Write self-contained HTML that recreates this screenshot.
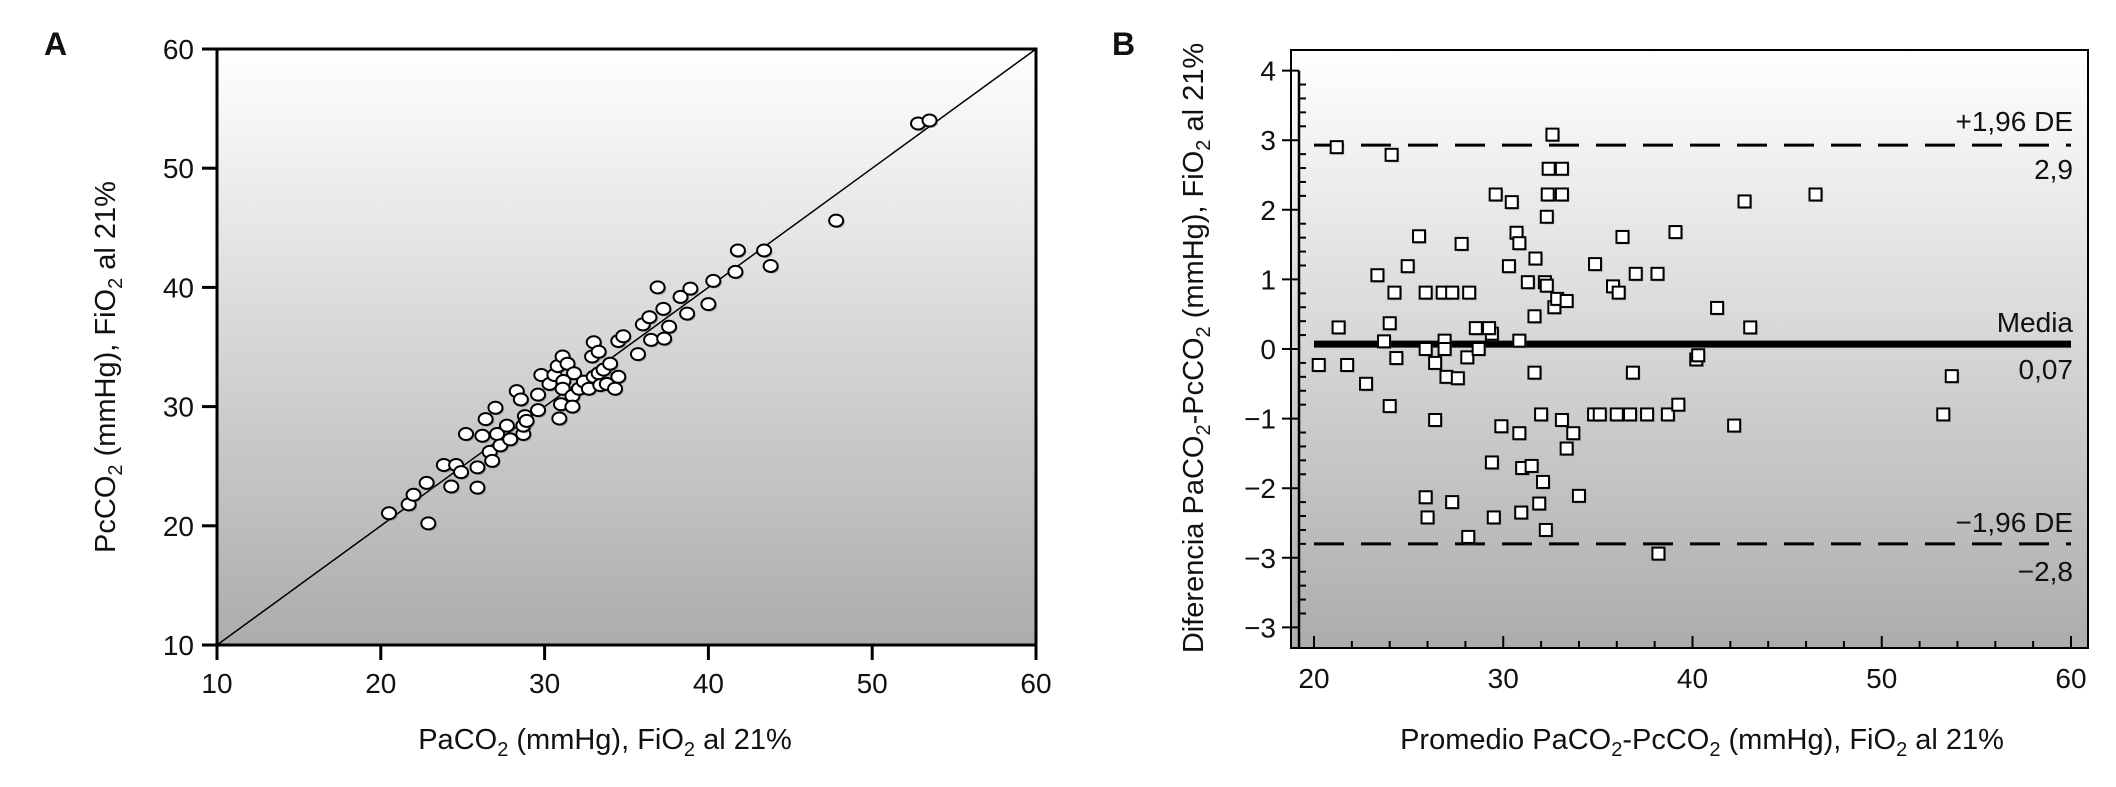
<!DOCTYPE html>
<html><head><meta charset="utf-8"><style>
body{margin:0;background:#fff}
svg{display:block;font-family:"Liberation Sans",sans-serif}
text{fill:#111}
</style></head><body>
<svg id="s" width="2116" height="787" viewBox="0 0 2116 787">
<defs><linearGradient id="g" x1="0" y1="0" x2="0" y2="1"><stop offset="0" stop-color="#ffffff"/><stop offset="1" stop-color="#acacac"/></linearGradient></defs>
<g id="A"></g>
<g id="B"></g>
</svg>
<script>
// Panel A data
const aX=[20.5,21.7,22.0,22.8,22.9,23.85,24.3,24.6,24.9,25.2,25.9,25.9,26.2,26.4,26.65,26.8,27.0,27.1,27.3,27.7,27.9,28.3,28.55,28.7,28.7,28.8,28.9,29.6,29.6,29.8,30.3,30.6,30.8,30.9,31.0,31.1,31.15,31.1,31.4,31.7,31.7,31.8,32.1,32.4,32.7,32.9,33.0,33.0,33.3,33.3,33.4,33.6,33.8,34.0,34.3,34.5,34.5,34.8,35.7,36.0,36.4,36.5,36.9,37.3,37.25,37.6,38.3,38.7,38.9,40.0,40.3,41.65,41.8,43.4,43.8,47.8,52.8,53.5];
const aY=[21.05,21.8,22.6,23.6,20.2,25.1,23.3,25.1,24.5,27.7,24.9,23.2,27.55,28.95,26.2,25.45,29.9,27.7,26.75,28.4,27.25,31.3,30.6,27.7,28.4,29.2,28.8,29.7,31.0,32.65,31.9,32.65,33.4,29.0,30.2,34.2,32.15,31.5,33.6,30.9,30.0,32.8,31.5,32.1,31.5,34.2,35.4,32.5,34.6,32.8,31.8,33.1,31.9,33.6,31.5,32.5,35.5,35.9,34.4,36.9,37.5,35.6,40.0,35.7,38.2,36.7,39.2,37.8,39.9,38.6,40.55,41.3,43.1,43.1,41.8,45.6,53.75,54.0];
const aTicks=[10,20,30,40,50,60];
// Panel B data
const bX=[20.25,21.2,21.3,21.75,22.75,23.35,23.7,24.0,24.0,24.1,24.25,24.35,24.95,25.55,25.9,25.9,25.9,26.0,26.4,26.4,26.8,26.9,26.9,27.0,27.3,27.3,27.6,27.8,28.1,28.15,28.2,28.55,28.7,29.4,29.4,29.25,29.5,29.6,29.9,30.3,30.45,30.7,30.85,30.85,30.85,30.95,31.0,31.3,31.5,31.65,31.65,31.7,31.9,32.0,32.1,32.2,32.25,32.3,32.3,32.35,32.4,32.6,32.7,32.85,33.1,33.1,33.1,33.35,33.35,33.7,34.0,34.8,34.85,35.1,35.8,36.0,36.1,36.3,36.7,36.85,37.0,37.6,38.15,38.2,38.7,39.1,39.25,40.2,40.3,41.3,42.2,42.75,43.05,46.5,53.25,53.7];
const bY=[-0.23,2.9,0.31,-0.23,-0.5,1.06,0.11,0.37,-0.82,2.79,0.81,-0.13,1.19,1.62,0.81,0.0,-2.13,-2.42,-1.02,-0.2,0.81,0.12,0.0,-0.4,-2.2,0.81,-0.42,1.51,-0.12,-2.7,0.81,0.3,0.0,-1.63,0.22,0.3,-2.42,2.22,-1.11,1.19,2.11,1.67,1.52,0.12,-1.21,-2.35,-1.71,0.96,-1.68,0.47,-0.34,1.3,-2.22,-0.94,-1.91,0.96,-2.6,0.91,1.9,2.22,2.59,3.08,0.6,0.72,2.59,2.22,-1.02,-1.43,0.69,-1.21,-2.11,-0.94,1.22,-0.94,0.9,-0.94,0.81,1.61,-0.94,-0.34,1.08,-0.94,1.08,-2.94,-0.94,1.68,-0.8,-0.15,-0.09,0.59,-1.1,2.12,0.31,2.22,-0.94,-0.39];
const bXTicks=[20,30,40,50,60];
const bYTicks=[4,3,2,1,0,-1,-2,-3,-4];
const bYLabels=["4","3","2","1","0","\u22121","\u22122","\u22123","\u22123"];
const meanDiff=0.07, upperLoA=2.93, lowerLoA=-2.8;

const NS="http://www.w3.org/2000/svg";
function mk(p,t,a,txt){const e=document.createElementNS(NS,t);for(const k in a)e.setAttribute(k,a[k]);if(txt!=null)e.innerHTML=txt;p.appendChild(e);return e;}

// ---- Panel A ----
const A=document.getElementById('A');
const ax=v=>217+(v-10)/50*819, ay=v=>645-(v-10)/50*596;
let r=mk(A,'rect',{x:217,y:49,width:819,height:596,fill:'url(#g)',stroke:'#000','stroke-width':3});


let ln=mk(A,'line',{x1:ax(10),y1:ay(10),x2:ax(60),y2:ay(60),stroke:'#000','stroke-width':1.5});


aTicks.forEach(t=>{
  let e=mk(A,'line',{x1:ax(t),y1:645,x2:ax(t),y2:660,stroke:'#000','stroke-width':3});
  
  
  e=mk(A,'text',{x:ax(t),y:693,'text-anchor':'middle','font-size':28},t);
  
  
  e=mk(A,'line',{x1:202,y1:ay(t),x2:217,y2:ay(t),stroke:'#000','stroke-width':3});
  
  
  e=mk(A,'text',{x:194,y:ay(t)+10,'text-anchor':'end','font-size':28},t);
  
  
});
aX.forEach((x,i)=>{
  let e=mk(A,'ellipse',{cx:ax(x)+1.5,cy:ay(aY[i])+1.5,rx:7,ry:6,fill:'#555',opacity:0.5});
  
  
  e=mk(A,'ellipse',{cx:ax(x),cy:ay(aY[i]),rx:7,ry:6,fill:'#fff',stroke:'#000','stroke-width':2});
  
  
});
let t=mk(A,'text',{x:44,y:55,'font-size':32,'font-weight':'bold'},'A');


t=mk(A,'text',{x:605,y:749,'text-anchor':'middle','font-size':29},'PaCO<tspan dy="7" font-size="20">2</tspan><tspan dy="-7"> (mmHg), FiO</tspan><tspan dy="7" font-size="20">2</tspan><tspan dy="-7"> al 21%</tspan>');


t=mk(A,'text',{x:0,y:0,'text-anchor':'middle','font-size':29,transform:'translate(115,367) rotate(-90)'},'PcCO<tspan dy="7" font-size="20">2</tspan><tspan dy="-7"> (mmHg), FiO</tspan><tspan dy="7" font-size="20">2</tspan><tspan dy="-7"> al 21%</tspan>');



// ---- Panel B ----
const B=document.getElementById('B');
const bx=v=>1314+(v-20)/40*757, by=v=>349-v*69.6;
r=mk(B,'rect',{x:1291,y:50,width:797,height:598,fill:'url(#g)',stroke:'#000','stroke-width':2});


let yl=mk(B,'line',{x1:1299,y1:by(4),x2:1299,y2:648,stroke:'#000','stroke-width':2.5});


for(let v=-4;v<=4.001;v+=0.2){
  const maj=Math.abs(v-Math.round(v))<0.01;
  let e=mk(B,'line',{x1:maj?1282:1299,y1:by(v),x2:maj?1299:1306,y2:by(v),stroke:'#000','stroke-width':2});
  
  
}
bYTicks.forEach((v,i)=>{
  let e=mk(B,'text',{x:1276,y:by(v)+10,'text-anchor':'end','font-size':28},bYLabels[i]);
  
  
});
for(let v=20;v<=60;v+=2){
  const maj=v%10===0;
  let e=mk(B,'line',{x1:bx(v),y1:648,x2:bx(v),y2:maj?636:641,stroke:'#000','stroke-width':2});
  
  
}
bXTicks.forEach(v=>{
  let e=mk(B,'text',{x:bx(v),y:688,'text-anchor':'middle','font-size':28},v);
  
  
});
let l=mk(B,'line',{x1:bx(20),y1:by(upperLoA),x2:bx(60),y2:by(upperLoA),stroke:'#000','stroke-width':3,'stroke-dasharray':'30 17'});


l=mk(B,'line',{x1:bx(20),y1:by(lowerLoA),x2:bx(60),y2:by(lowerLoA),stroke:'#000','stroke-width':3,'stroke-dasharray':'30 17'});


l=mk(B,'line',{x1:bx(20),y1:by(meanDiff),x2:bx(60),y2:by(meanDiff),stroke:'#000','stroke-width':7});


bX.forEach((x,i)=>{
  let e=mk(B,'rect',{x:bx(x)-4.5,y:by(bY[i])-4.5,width:12,height:12,fill:'#666',opacity:0.5});
  
  
  e=mk(B,'rect',{x:bx(x)-6,y:by(bY[i])-6,width:12,height:12,fill:'#fff',stroke:'#000','stroke-width':2});
  
  
});
const labs=[["+1,96 DE",by(upperLoA)-14,'upper-limit-label'],["2,9",by(upperLoA)+34,'upper-limit-value'],["Media",by(meanDiff)-12,'mean-label'],["0,07",by(meanDiff)+35,'mean-value'],["\u22121,96 DE",by(lowerLoA)-12,'lower-limit-label'],["\u22122,8",by(lowerLoA)+37,'lower-limit-value']];
labs.forEach(a=>{
  let e=mk(B,'text',{x:2073,y:a[1],'text-anchor':'end','font-size':28},a[0]);
  
  
});
t=mk(B,'text',{x:1112,y:55,'font-size':32,'font-weight':'bold'},'B');


t=mk(B,'text',{x:1702,y:749,'text-anchor':'middle','font-size':29},'Promedio PaCO<tspan dy="7" font-size="20">2</tspan><tspan dy="-7">-PcCO</tspan><tspan dy="7" font-size="20">2</tspan><tspan dy="-7"> (mmHg), FiO</tspan><tspan dy="7" font-size="20">2</tspan><tspan dy="-7"> al 21%</tspan>');


t=mk(B,'text',{x:0,y:0,'text-anchor':'middle','font-size':29,transform:'translate(1203,348) rotate(-90)'},'Diferencia PaCO<tspan dy="7" font-size="20">2</tspan><tspan dy="-7">-PcCO</tspan><tspan dy="7" font-size="20">2</tspan><tspan dy="-7"> (mmHg), FiO</tspan><tspan dy="7" font-size="20">2</tspan><tspan dy="-7"> al 21%</tspan>');


</script>
</body></html>
